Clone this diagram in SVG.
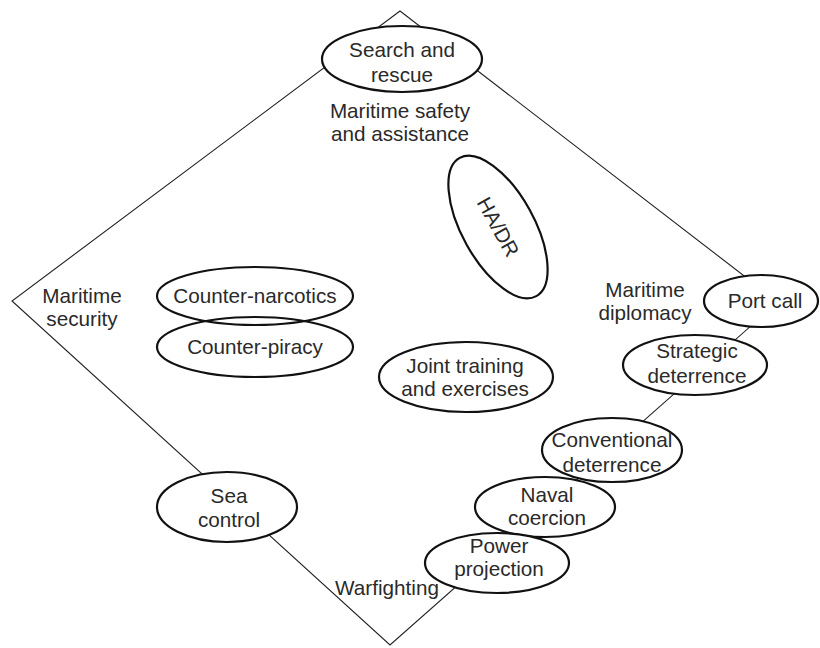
<svg xmlns="http://www.w3.org/2000/svg" width="820" height="648" viewBox="0 0 820 648">
<style>
text{font-family:"Liberation Sans",Arial,sans-serif;font-size:20.7px;fill:#2a2a2a;text-anchor:middle}
.n{fill:#fff;stroke:#111;stroke-width:2.2}
.o{fill:none;stroke:#111;stroke-width:2.2}
.edge{fill:none;stroke:#222;stroke-width:1.1}
</style>
<rect width="820" height="648" fill="#fff"/>
<g id="connectors">
<polygon class="edge" points="400,11 778,302 390,645 12,301"/>
</g>
<g id="labels">
<text x="400" y="118">Maritime safety</text>
<text x="400" y="141">and assistance</text>
<text x="82" y="303">Maritime</text>
<text x="82" y="326">security</text>
<text x="645" y="297">Maritime</text>
<text x="645" y="320">diplomacy</text>
<text x="387" y="595">Warfighting</text>
</g>
<g id="search-rescue"><ellipse class="n" cx="402" cy="59" rx="80" ry="33"/><text x="402" y="57">Search and</text><text x="402" y="82">rescue</text></g>
<g id="hadr"><ellipse class="n" cx="498" cy="227" rx="79" ry="36" transform="rotate(61 498 227)"/><text x="498" y="234" transform="rotate(61 498 227)">HA/DR</text></g>
<g id="counter-narcotics"><ellipse class="o" cx="255" cy="296" rx="98" ry="29"/><text x="255" y="303">Counter-narcotics</text></g>
<g id="counter-piracy"><ellipse class="o" cx="255" cy="347" rx="98" ry="30"/><text x="255" y="354">Counter-piracy</text></g>
<g id="joint-training"><ellipse class="n" cx="466" cy="377" rx="87" ry="35"/><text x="465" y="373">Joint training</text><text x="465" y="396">and exercises</text></g>
<g id="port-call"><ellipse class="n" cx="761" cy="301" rx="57" ry="26"/><text x="765" y="308">Port call</text></g>
<g id="strategic-deterrence"><ellipse class="n" cx="695" cy="365" rx="72" ry="30"/><text x="697" y="358">Strategic</text><text x="697" y="383">deterrence</text></g>
<g id="conventional-deterrence"><ellipse class="n" cx="612" cy="450" rx="70" ry="32"/><text x="612" y="447">Conventional</text><text x="612" y="472">deterrence</text></g>
<g id="naval-coercion"><ellipse class="n" cx="545" cy="507" rx="70" ry="30"/><text x="547" y="502">Naval</text><text x="547" y="525">coercion</text></g>
<g id="power-projection"><ellipse class="n" cx="497" cy="563" rx="72" ry="30"/><text x="499" y="553">Power</text><text x="499" y="576">projection</text></g>
<g id="sea-control"><ellipse class="n" cx="227" cy="507" rx="70" ry="35"/><text x="229" y="503">Sea</text><text x="229" y="527">control</text></g>
</svg>
